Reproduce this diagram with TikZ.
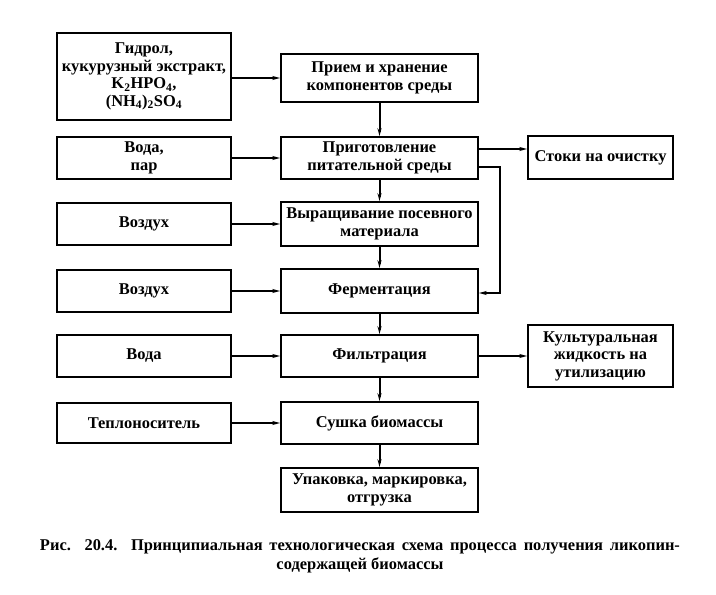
\documentclass[tikz,border=0pt]{standalone}
\usepackage{fontspec}
\setmainfont{Liberation Serif}
\usetikzlibrary{arrows.meta}

\begin{document}
\begin{tikzpicture}[x=1bp,y=-1bp,
    box/.style={draw,line width=1.6bp,align=center,inner sep=1bp,
        font=\bfseries\fontsize{16.5}{17.5}\selectfont},
    lbox/.style={box,minimum width=174bp,minimum height=42bp},
    cbox/.style={box,minimum width=197bp,minimum height=44bp},
    rbox/.style={box,minimum width=145bp,minimum height=43bp},
    arr/.style={line width=2bp,-{Stealth[length=8bp,width=4bp]}}]
        % \draw[help lines,step=10] (0,0) grid (716,595);
        \fill[white] (0,0) rectangle (716,595);
        \useasboundingbox (0,0) rectangle (716,595);

        % left column
        \node[lbox,minimum height=87bp] (gidrol) at (144,76.5) {Гидрол,\\кукурузный экстракт,\\K\textsubscript{2}HPO\textsubscript{4},\\(NH\textsubscript{4})\textsubscript{2}SO\textsubscript{4}};
        \node[lbox] (voda1) at (144,158) {Вода,\\пар};
        \node[lbox] (vozd1) at (144,224) {Воздух};
        \node[lbox] (vozd2) at (144,291) {Воздух};
        \node[lbox] (voda2) at (144,356) {Вода};
        \node[lbox,minimum height=40bp] (teplo) at (144,423) {Теплоноситель};

        % main line
        \node[cbox,minimum height=48bp] (priem) at (379.5,78) {Прием и хранение\\компонентов среды};
        \node[cbox,minimum height=42bp] (prig) at (379.5,158) {Приготовление\\питательной среды};
        \node[cbox] (vyr) at (379.5,224) {Выращивание посевного\\материала};
        \node[cbox] (ferm) at (379.5,291) {Ферментация};
        \node[cbox,minimum height=42bp] (filt) at (379.5,356) {Фильтрация};
        \node[cbox,minimum height=42bp] (sush) at (379.5,423) {Сушка биомассы};
        \node[cbox] (upak) at (379.5,490) {Упаковка, маркировка,\\отгрузка};

        % right column
        \node[rbox] (stoki) at (600.5,157.5) {Стоки на очистку};
        \node[rbox,minimum height=62bp] (kult) at (600.5,356) {Культуральная\\жидкость на\\утилизацию};

        \draw[arr] (gidrol.east |- priem) -- (priem.west);
        \foreach \a/\b in {voda1/prig,vozd1/vyr,vozd2/ferm,voda2/filt,teplo/sush}
            \draw[arr] (\a.east) -- (\a.east -| \b.west);
        \foreach \a/\b in {priem/prig,prig/vyr,vyr/ferm,ferm/filt,filt/sush,sush/upak}
            \draw[arr] (\a) -- (\b);
        \draw[arr] ([yshift=9bp]prig.east) -- ([yshift=9bp]prig.east -| stoki.west);
        \draw[arr] ([yshift=-9bp]prig.east) -- ++(21,0) |- ([yshift=-2bp]ferm.east);
        \draw[arr] (filt.east) -- (filt.east -| kult.west);

        \node[font=\bfseries\fontsize{16.5}{19}\selectfont,align=center] (caption) at (360,556)
            {\makebox[640bp][s]{Рис. 20.4. Принципиальная технологическая схема процесса получения ликопин-}\\содержащей биомассы};
    \end{tikzpicture}
\end{document}
